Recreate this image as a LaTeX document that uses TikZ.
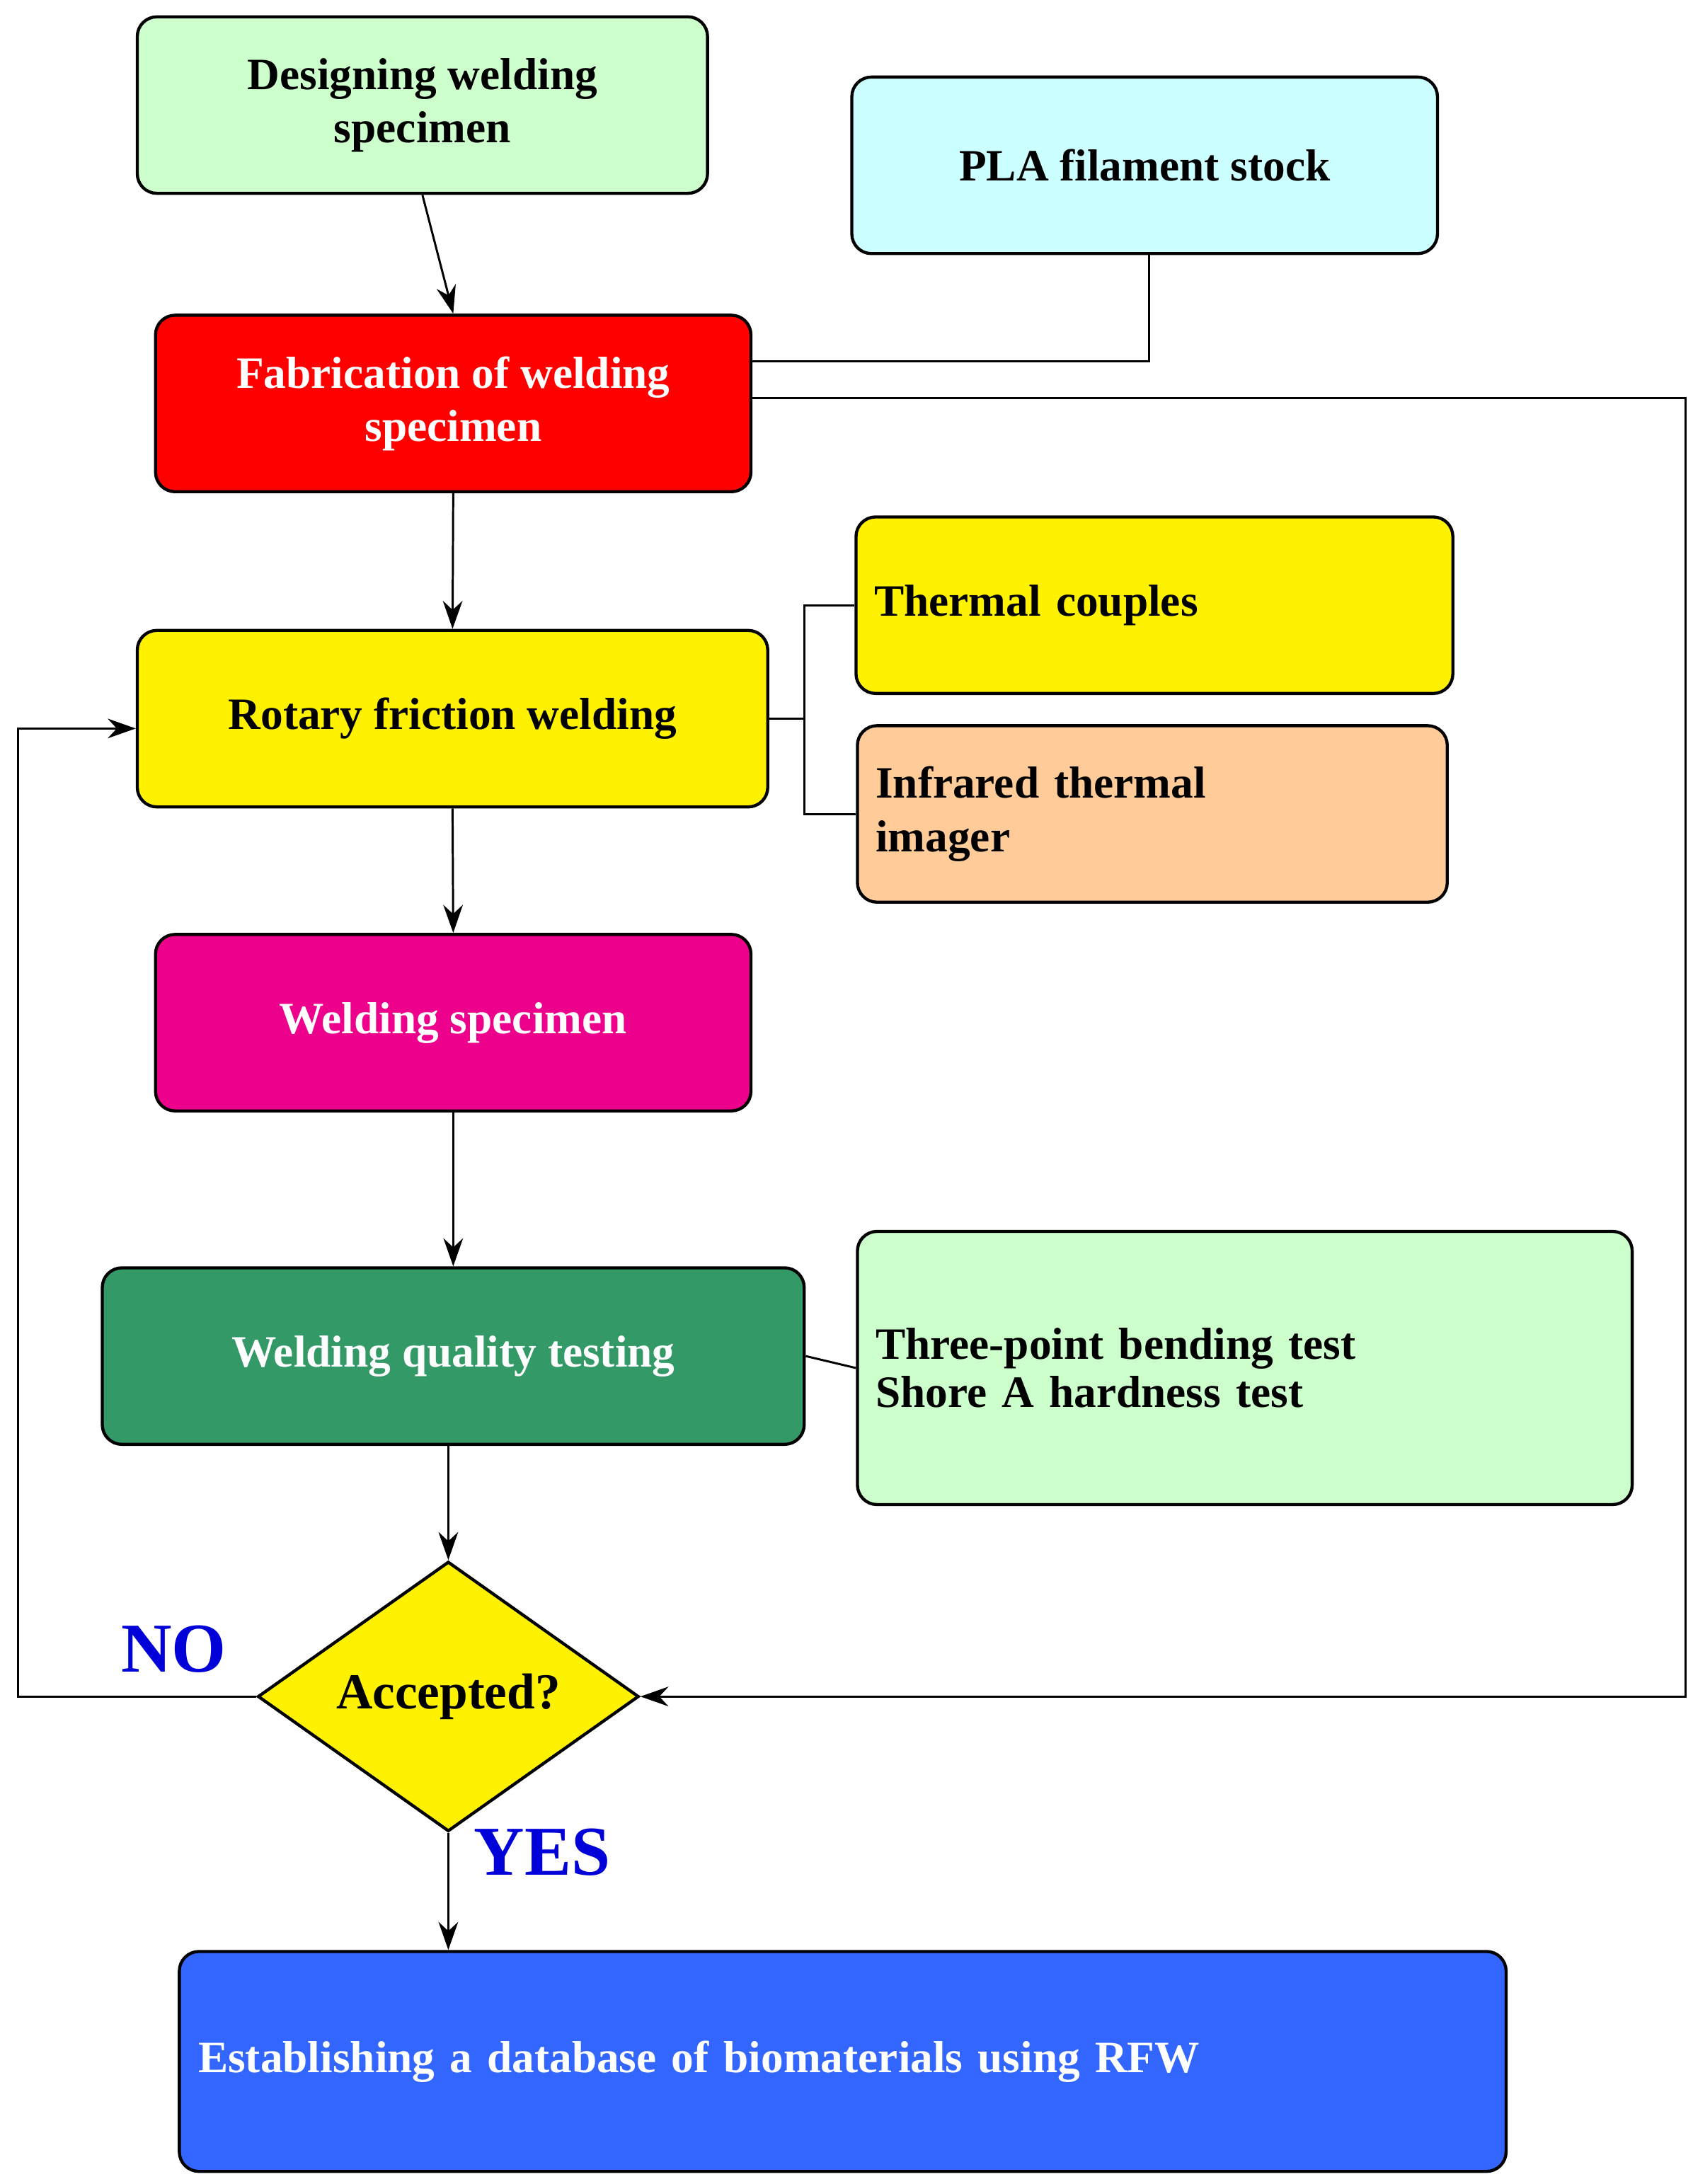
\documentclass[tikz,border=0pt]{standalone}
\usepackage{fontspec}
\setmainfont{Liberation Serif}
\usetikzlibrary{shapes.geometric,arrows.meta}
\begin{document}
\begin{tikzpicture}[x=1pt,y=-1pt,
 box/.style={draw=black,line width=2.2pt,rounded corners=14pt,inner sep=0pt,font=\bfseries\fontsize{32}{38}\selectfont,align=center},
 ln/.style={line width=1.5pt},
 ar/.style={ln,-{Stealth[length=20pt,width=14pt]}},
 lab/.style={font=\bfseries\fontsize{50}{56}\selectfont,text=blue!85!black}]
\useasboundingbox (0,0) rectangle (1208,1559);
\definecolor{lgreen}{HTML}{CCFFCC}\definecolor{lcyan}{HTML}{CCFFFF}
\definecolor{peach}{HTML}{FFCC99}\definecolor{dgreen}{HTML}{339966}
\definecolor{dblue}{HTML}{3366FF}
\node[box,fill=lgreen,minimum width=407,minimum height=126] (des) at (301.5,75) {Designing welding\\specimen};
\node[box,fill=lcyan,minimum width=418,minimum height=126] (pla) at (817,118) {PLA filament stock};
\node[box,fill=red,text=white,minimum width=425,minimum height=126] (fab) at (323.5,288) {Fabrication of welding\\specimen};
\node[box,fill=yellow,minimum width=450,minimum height=126] (rot) at (323,513) {Rotary friction welding};
\node[box,fill=yellow,minimum width=426,minimum height=126,text width=400,align=left] (tc) at (824,432) {Thermal couples};
\node[box,fill=peach,minimum width=421,minimum height=126,text width=395,align=left] (ir) at (822.5,581) {Infrared thermal\\imager};
\node[box,fill=magenta,text=white,minimum width=425,minimum height=126] (ws) at (323.5,730) {Welding specimen};
\node[box,fill=dgreen,text=white,minimum width=501,minimum height=126] (qt) at (323.5,968) {Welding quality testing};
\node[box,fill=lgreen,minimum width=553,minimum height=195,text width=527,align=left] (tp) at (888.5,976.5) {Three-point bending test\\[-4pt]Shore A hardness test};
\node[diamond,draw=black,line width=2.2pt,fill=yellow,minimum width=272,minimum height=136,inner sep=0pt,font=\bfseries\fontsize{36}{40}\selectfont] (acc) at (320,1211) {Accepted?};
\node[box,fill=dblue,text=white,minimum width=947,minimum height=157,text width=920,align=left] (db) at (601.5,1471.5) {Establishing a database of biomaterials using RFW};
\coordinate (c1) at (820,258);
\coordinate (c2) at (1203,284);
\coordinate (c3) at (1203,1211);
\coordinate (c4) at (13,1211);
\coordinate (c5) at (13,520);
\coordinate (b) at (574,513);
\draw[ar] (des.south) -- (fab.north);
\draw[ln] (pla.south -| c1) -- (c1) -- (c1 -| fab.east);
\draw[ar] (fab.east |- c2) -- (c2) -- (c3) -- (acc.east);
\draw[ar] (fab.south) -- (rot.north);
\draw[ln] (rot.east) -- (b);
\draw[ln] (tc.west) -| (b) |- (ir.west);
\draw[ar] (rot.south) -- (ws.north);
\draw[ar] (ws.south) -- (qt.north);
\draw[ln] (qt.east) -- (tp.west);
\draw[ar] (qt.south -| acc.north) -- (acc.north);
\draw[ar] (acc.west) -- (c4) -- (c5) -- (c5 -| rot.west);
\draw[ar] (acc.south) -- (db.north -| acc.south);
\node[lab] (no) at (124,1177) {NO};
\node[lab] (yes) at (387,1322) {YES};
\end{tikzpicture}
\end{document}
